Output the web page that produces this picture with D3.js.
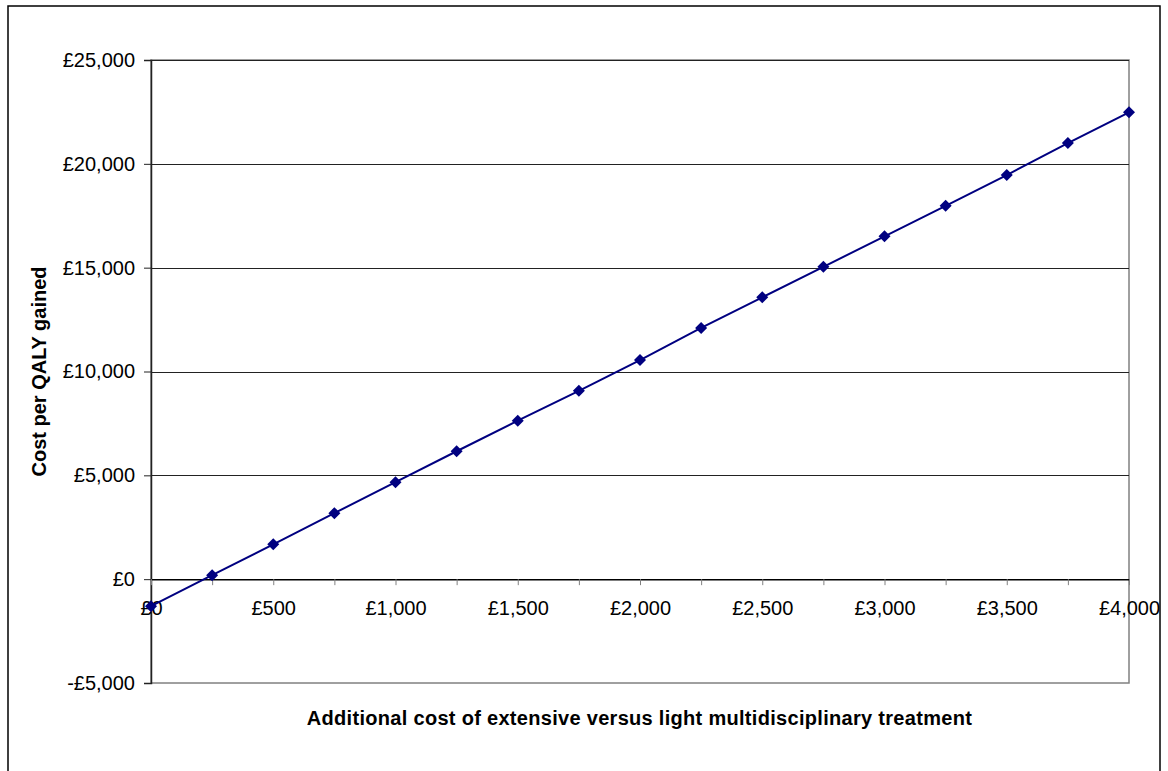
<!DOCTYPE html>
<html>
<head>
<meta charset="utf-8">
<script src="https://cdn.jsdelivr.net/npm/d3@7"></script>
<style>
body { margin: 0; background: #fff; }
text { font-family: "Liberation Sans", Arial, sans-serif; }
</style>
</head>
<body>
<svg></svg>
<script>

// additional cost (x) and resulting cost per QALY (y)
var extraCost = [0, 250, 500, 750, 1000, 1250, 1500, 1750, 2000, 2250, 2500, 2750, 3000, 3250, 3500, 3750, 4000];
var costPerQaly = [-1300, 190, 1680, 3180, 4670, 6160, 7630, 9070, 10550, 12100, 13570, 15040, 16510, 17980, 19460, 21000, 22480];

var xTicks = [0, 500, 1000, 1500, 2000, 2500, 3000, 3500, 4000];
var yTicks = [-5000, 0, 5000, 10000, 15000, 20000, 25000];

var xTitle = "Additional cost of extensive versus light multidisciplinary treatment";
var yTitle = "Cost per QALY gained";

var screen = {width: 1168, height: 771};
var plot = {left: 151, top: 60, right: 1129, bottom: 683};

var money = function(v)
{
    return (v < 0 ? "-" : "") + "£" + d3.format(",")(Math.abs(v));
}

var makeGraph = function()
{
    var svg = d3.select("svg")
        .attr("width", screen.width)
        .attr("height", screen.height)

    var xScale = d3.scaleLinear().domain([0, 4000]).range([plot.left, plot.right])
    var yScale = d3.scaleLinear().domain([-5000, 25000]).range([plot.bottom, plot.top])

    // outer chart border
    svg.append("rect")
        .attr("x", 8).attr("y", 6)
        .attr("width", 1152).attr("height", 820)
        .attr("fill", "white")
        .attr("stroke", "#000")
        .attr("stroke-width", 1.5)

    // plot border
    svg.append("rect")
        .attr("x", plot.left).attr("y", plot.top)
        .attr("width", plot.right - plot.left)
        .attr("height", plot.bottom - plot.top)
        .attr("fill", "none")
        .attr("stroke", "#808080")
        .attr("stroke-width", 1.5)

    // gridlines
    svg.append("g").attr("id", "grid")
        .selectAll("line")
        .data(yTicks.filter(function(d){ return d > 0; }))
        .enter().append("line")
        .attr("x1", plot.left).attr("x2", plot.right)
        .attr("y1", function(d){ return Math.round(yScale(d)) + 0.5; })
        .attr("y2", function(d){ return Math.round(yScale(d)) + 0.5; })
        .attr("stroke", "#222")
        .attr("stroke-width", 1.2)

    var yAxis = d3.axisLeft(yScale)
        .tickValues(yTicks)
        .tickFormat(money)
        .tickSize(7)
        .tickPadding(9)

    var xAxis = d3.axisBottom(xScale)
        .tickValues(extraCost)
        .tickFormat(function(d){ return xTicks.indexOf(d) >= 0 ? money(d) : ""; })
        .tickSizeInner(6)
        .tickSizeOuter(0)
        .tickPadding(16)

    svg.append("g")
        .attr("id", "yAxis")
        .attr("transform", "translate(" + plot.left + ",0)")
        .call(yAxis)

    svg.append("g")
        .attr("id", "xAxis")
        .attr("transform", "translate(0," + yScale(0) + ")")
        .call(xAxis)

    svg.selectAll("#yAxis .domain").attr("stroke", "#222").attr("stroke-width", 1.5)
    svg.selectAll("#yAxis .tick line").attr("stroke", "#222")
    svg.selectAll("#xAxis .domain").attr("stroke", "#000").attr("stroke-width", 1.5)
    svg.selectAll("#xAxis .tick line").attr("stroke", "#808080")
    svg.selectAll(".tick text")
        .attr("font-family", "Liberation Sans, Arial, sans-serif")
        .attr("font-size", 20)
        .attr("fill", "#000")

    // series line
    var line = d3.line()
        .x(function(d, i){ return xScale(extraCost[i]); })
        .y(function(d){ return yScale(d); })

    svg.append("path")
        .datum(costPerQaly)
        .attr("fill", "none")
        .attr("stroke", "#000080")
        .attr("stroke-width", 2)
        .attr("d", line)

    var diamond = d3.symbol().type(d3.symbolSquare).size(72)

    svg.append("g").attr("id", "markers")
        .selectAll("path")
        .data(costPerQaly)
        .enter().append("path")
        .attr("d", diamond)
        .attr("fill", "#000080")
        .attr("transform", function(d, i){
            return "translate(" + xScale(extraCost[i]) + "," + yScale(d) + ") rotate(45)";
        })

    // axis titles
    svg.append("text")
        .attr("x", (plot.left + plot.right) / 2 - 0.5)
        .attr("y", 725)
        .attr("text-anchor", "middle")
        .attr("font-size", 20)
        .attr("font-weight", "bold")
        .attr("letter-spacing", 0.3)
        .text(xTitle)

    svg.append("text")
        .attr("transform", "translate(46," + (plot.top + plot.bottom) / 2 + ") rotate(-90)")
        .attr("text-anchor", "middle")
        .attr("font-size", 20)
        .attr("font-weight", "bold")
        .text(yTitle)
}

makeGraph();
</script>
</body>
</html>
